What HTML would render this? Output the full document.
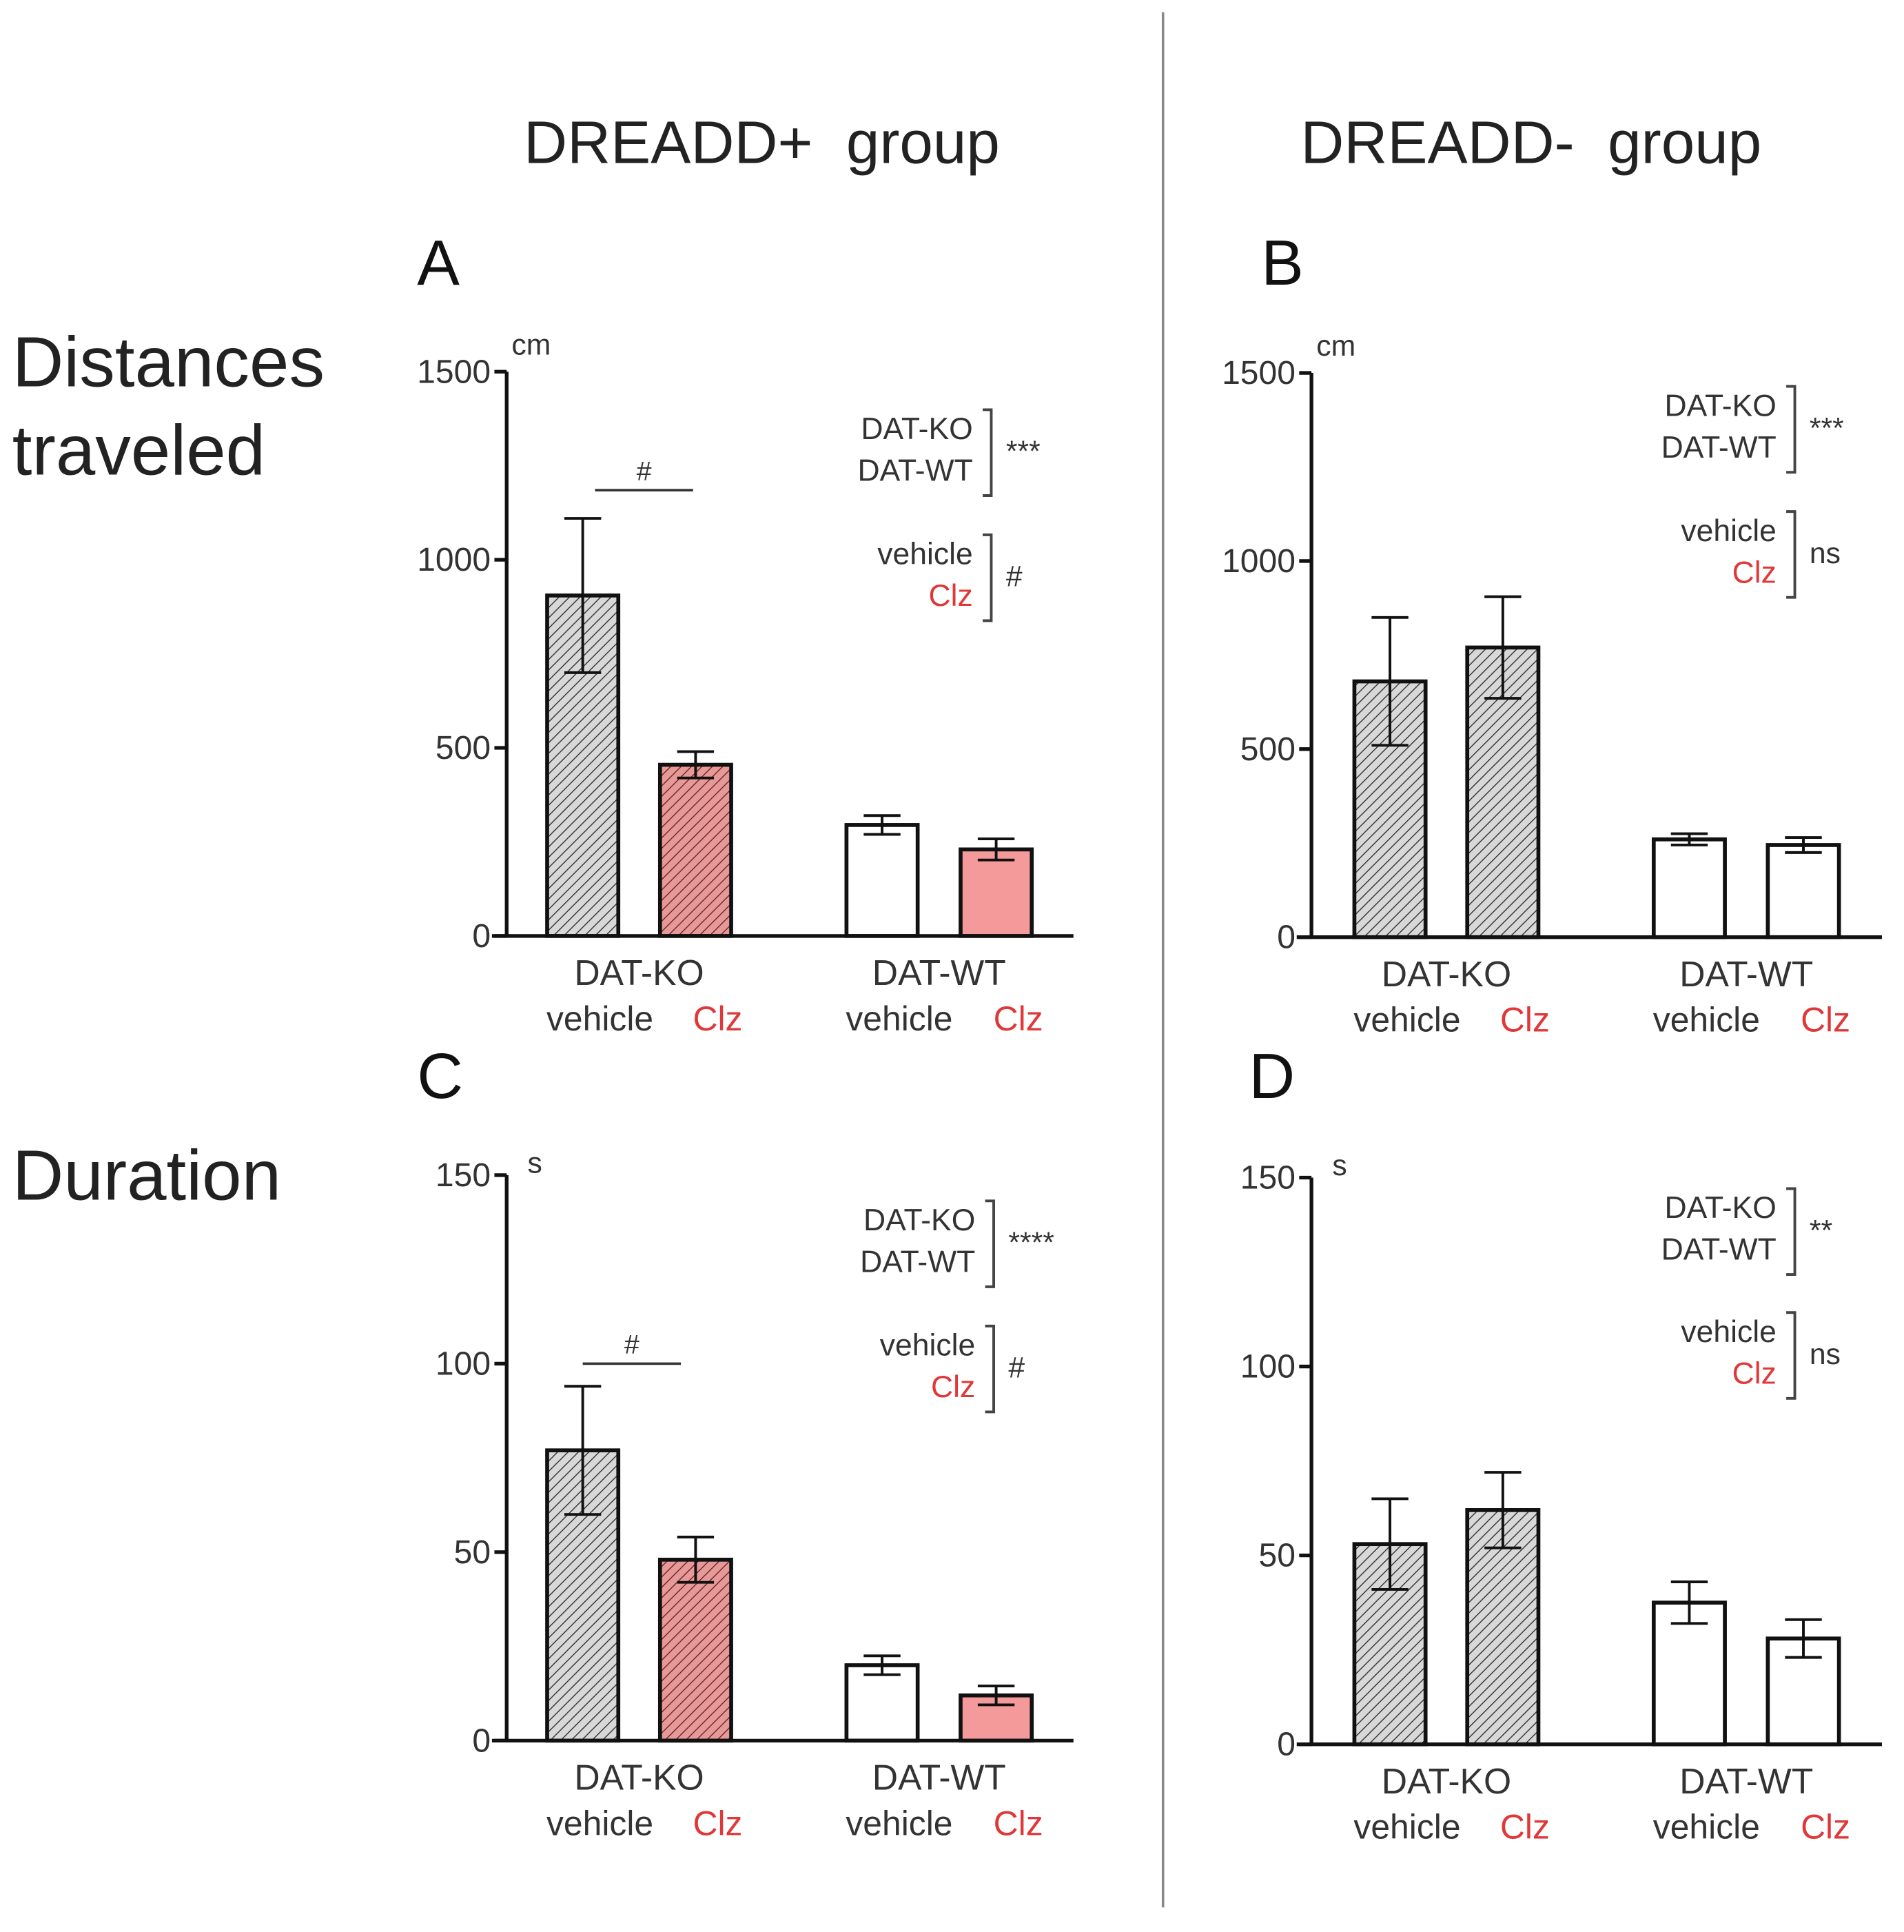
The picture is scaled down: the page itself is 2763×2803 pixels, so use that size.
<!DOCTYPE html>
<html><head><meta charset="utf-8"><style>
html,body{margin:0;padding:0;background:#fff}
svg{display:block}
text{font-family:"Liberation Sans",sans-serif}
</style></head><body>
<svg id="fig" width="2763" height="2803" viewBox="0 0 1552 1575" preserveAspectRatio="none" xmlns="http://www.w3.org/2000/svg">
<defs>
<pattern id="hg" patternUnits="userSpaceOnUse" width="6" height="6" patternTransform="rotate(45)"><rect width="6" height="6" fill="#d8d8d8"/><line x1="0" y1="0" x2="0" y2="6" stroke="#333" stroke-width="1.6"/></pattern>
<pattern id="hr" patternUnits="userSpaceOnUse" width="6" height="6" patternTransform="rotate(45)"><rect width="6" height="6" fill="#e59a9a"/><line x1="0" y1="0" x2="0" y2="6" stroke="#7a2020" stroke-width="1.6"/></pattern>
</defs>
<line x1="948" y1="10" x2="948" y2="1555" stroke="#888" stroke-width="2"/>
<text x="621" y="133" font-size="49" text-anchor="middle" fill="#222" xml:space="preserve">DREADD+  group</text>
<text x="1248" y="133" font-size="49" text-anchor="middle" fill="#222" xml:space="preserve">DREADD-  group</text>
<text x="10" y="315" font-size="58" fill="#222">Distances</text>
<text x="10" y="387" font-size="58" fill="#222">traveled</text>
<text x="10" y="978" font-size="58" fill="#222">Duration</text>
<g id="panels"></g>
</svg>
<script>
const groups = ["DAT-KO","DAT-WT"];
const conditions = ["vehicle","Clz"];
const valsA = [905, 455, 295, 230];
const errA = [205, 35, 25, 28];
const valsB = [680, 770, 260, 245];
const errB = [170, 135, 15, 20];
const valsC = [77, 48, 20, 12];
const errC = [17, 6, 2.5, 2.5];
const valsD = [53, 62, 37.5, 28];
const errD = [12, 10, 5.5, 5];
const ticksDist = [0, 500, 1000, 1500];
const ticksDur = [0, 50, 100, 150];
const sigA = ["***", "#"];
const sigB = ["***", "ns"];
const sigC = ["****", "#"];
const sigD = ["**", "ns"];

const NS = "http://www.w3.org/2000/svg";
const root = document.getElementById("panels");
function mk(tag, attrs, parent, txt){
  const e = document.createElementNS(NS, tag);
  for (const k in attrs) e.setAttribute(k, attrs[k]);
  if (txt !== undefined) e.textContent = txt;
  (parent || root).appendChild(e);
  return e;
}
function panel(cfg){
  const g = mk("g", {});
  
  
  const max = cfg.ticks[cfg.ticks.length - 1];
  const y = v => cfg.y0 - (v / max) * (cfg.y0 - cfg.yTop);
  const L = mk("text", {x: cfg.letterX, y: cfg.letterY, "font-size": 52, fill: "#111"}, g, cfg.letter);
  
  
  const ya = mk("line", {x1: cfg.ax, y1: cfg.yTop, x2: cfg.ax, y2: cfg.y0 + 1, stroke: "#111", "stroke-width": 3}, g);
  
  
  const xa = mk("line", {x1: cfg.ax - 12, y1: cfg.y0, x2: cfg.xEnd, y2: cfg.y0, stroke: "#111", "stroke-width": 3}, g);
  
  
  cfg.ticks.forEach(t => {
    const tk = mk("line", {x1: cfg.ax - 10, y1: y(t), x2: cfg.ax, y2: y(t), stroke: "#111", "stroke-width": 3}, g);
    
    
    const tl = mk("text", {x: cfg.ax - 13, y: y(t) + 9, "font-size": 27, "text-anchor": "end", fill: "#333"}, g, String(t));
    
    
  });
  const u = mk("text", {x: cfg.ax + 4 + (cfg.unit === "s" ? 13 : 0), y: cfg.yTop - (cfg.unit === "s" ? 2 : 14), "font-size": 24, fill: "#333"}, g, cfg.unit);
  
  
  cfg.vals.forEach((v, i) => {
    const bx = cfg.ax + cfg.offs[i];
    const w = 58;
    const by = y(v);
    const b = mk("rect", {x: bx, y: by, width: w, height: cfg.y0 - by, fill: cfg.fills[i], stroke: "#111", "stroke-width": 3.2}, g);
    
    
    const cx = bx + w / 2, e = cfg.errs[i];
    const eb = mk("path", {d: `M${cx},${y(v - e)} V${y(v + e)} M${cx - 15},${y(v + e)} H${cx + 15} M${cx - 15},${y(v - e)} H${cx + 15}`, stroke: "#111", "stroke-width": 2.2, fill: "none"}, g);
    
    
  });
  [0, 1].forEach(gi => {
    const c = cfg.ax + (cfg.offs[gi * 2] + cfg.offs[gi * 2 + 1] + 58) / 2;
    const gl = mk("text", {x: c, y: cfg.y0 + 40, "font-size": 29, "text-anchor": "middle", fill: "#333"}, g, groups[gi]);
    
    
    const vl = mk("text", {x: cfg.ax + cfg.offs[gi * 2] + 43, y: cfg.y0 + 77, "font-size": 28, "text-anchor": "middle", fill: "#333"}, g, conditions[0]);
    
    
    const cl = mk("text", {x: cfg.ax + cfg.offs[gi * 2 + 1] + 47, y: cfg.y0 + 77, "font-size": 28, "text-anchor": "middle", fill: "#e03838"}, g, conditions[1]);
    
    
  });
  const lx = cfg.legX, ly = cfg.legY;
  [[groups[0], groups[1], "#333", "#333", cfg.sig[0], 0], [conditions[0], conditions[1], "#333", "#e03838", cfg.sig[1], cfg.legGap]].forEach((r, k) => {
    const yy = ly + r[5];
    const t1 = mk("text", {x: lx, y: yy, "font-size": 25, "text-anchor": "end", fill: r[2]}, g, r[0]);
    
    
    const t2 = mk("text", {x: lx, y: yy + 34, "font-size": 25, "text-anchor": "end", fill: r[3]}, g, r[1]);
    
    
    const br = mk("path", {d: `M${lx + 8},${yy - 24} H${lx + 15} V${yy + 46} H${lx + 8}`, stroke: "#444", "stroke-width": 2.2, fill: "none"}, g);
    
    
    const st = mk("text", {x: lx + 27, y: yy + 18, "font-size": 24, fill: "#333"}, g, r[4]);
    
    
  });
  if (cfg.hashLine) {
    const h = cfg.hashLine;
    const hl = mk("line", {x1: cfg.ax + h[0], y1: y(h[2]), x2: cfg.ax + h[1], y2: y(h[2]), stroke: "#333", "stroke-width": 2}, g);
    
    
    const ht = mk("text", {x: cfg.ax + (h[0] + h[1]) / 2, y: y(h[2]) - 8, "font-size": 22, "text-anchor": "middle", fill: "#333"}, g, "#");
    
    
  }
}
const offsL = [33, 125, 277, 370];
const offsR = [35, 127, 279, 372];
const fillsPlus = ["url(#hg)", "url(#hr)", "#fff", "#f59a9a"];
const fillsMinus = ["url(#hg)", "url(#hg)", "#fff", "#fff"];
panel({letter: "A", letterX: 340, ax: 413, yTop: 303, y0: 763, xEnd: 875, letterY: 232, ticks: ticksDist, unit: "cm", vals: valsA, errs: errA, offs: offsL, fills: fillsPlus, legX: 793, legY: 358, legGap: 102, sig: sigA, hashLine: [72, 152, 1185]});
panel({letter: "B", letterX: 1028, ax: 1069, yTop: 304, y0: 764, xEnd: 1534, letterY: 232, ticks: ticksDist, unit: "cm", vals: valsB, errs: errB, offs: offsR, fills: fillsMinus, legX: 1448, legY: 339, legGap: 102, sig: sigB});
panel({letter: "C", letterX: 340, ax: 413, yTop: 958, y0: 1419, xEnd: 875, letterY: 895, ticks: ticksDur, unit: "s", vals: valsC, errs: errC, offs: offsL, fills: fillsPlus, legX: 795, legY: 1003, legGap: 102, sig: sigC, hashLine: [62, 142, 100]});
panel({letter: "D", letterX: 1018, ax: 1069, yTop: 960, y0: 1422, xEnd: 1534, letterY: 895, ticks: ticksDur, unit: "s", vals: valsD, errs: errD, offs: offsR, fills: fillsMinus, legX: 1448, legY: 993, legGap: 101, sig: sigD});
</script>
</body></html>
